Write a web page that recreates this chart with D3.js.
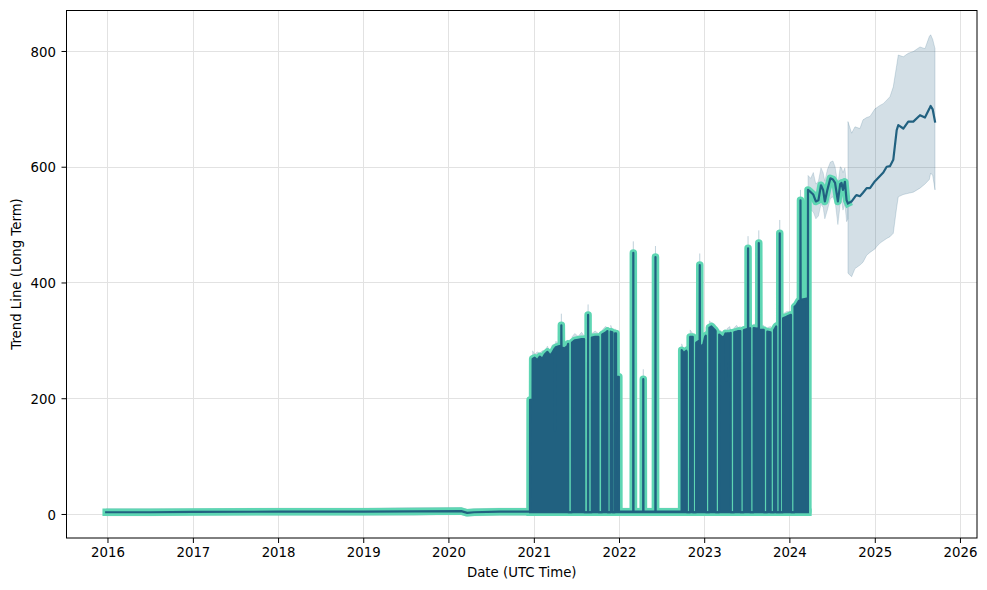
<!DOCTYPE html>
<html><head><meta charset="utf-8">
<script src="https://cdn.jsdelivr.net/npm/d3@7"></script>
<style>
body{margin:0;background:#fff}
svg{display:block}
text{font-family:"DejaVu Sans",sans-serif;fill:#000}
</style>
</head><body>
<svg id="chart" width="987" height="590"></svg>
<script>
// ---------- data ----------
const xTickYears = [2016, 2017, 2018, 2019, 2020, 2021, 2022, 2023, 2024, 2025, 2026];
const yTickValues = [0, 200, 400, 600, 800];
const xLabel = "Date (UTC Time)";
const yLabel = "Trend Line (Long Term)";

// observed trend: [decimal year, value, band low, band high]
const hist = [
[2015.985, 3, -3, 9],[2016.5, 3, -3, 9],[2017.0, 3.5, -2, 9],[2018.0, 4, -2, 10],[2019.0, 4, -2, 10],
[2019.6, 4.5, -2, 11],[2020.15, 5, -1, 11],[2020.22, 2, -4, 8],[2020.30, 3, -3, 9],[2020.60, 4, -2, 10],
[2020.955, 4, -2, 10],
[2020.956, 197, 0, 205],[2020.985, 197, 0, 206],[2020.986, 268, 0, 282],[2021.010, 270, 0, 276],
[2021.040, 266, 0, 280],[2021.070, 272, 0, 278],[2021.100, 268, 0, 282],[2021.130, 276, 0, 282],
[2021.160, 280, 0, 290],[2021.190, 274, 0, 280],[2021.215, 278, 0, 292],[2021.245, 286, 0, 292],
[2021.246, 145, 0, 150],[2021.255, 145, 0, 150],[2021.256, 288, 0, 298],[2021.300, 290, 0, 296],
[2021.322, 289, 0, 296],[2021.323, 326, 0, 346],[2021.325, 288, 0, 294],[2021.360, 286, 0, 294],
[2021.395, 290, 0, 300],[2021.403, 294, 0, 300],[2021.404, 3, 0, 8],[2021.447, 3, 0, 8],
[2021.448, 296, 0, 306],[2021.480, 300, 0, 312],[2021.520, 301, 0, 307],[2021.560, 302, 0, 314],
[2021.590, 302, 0, 308],[2021.591, 3, 0, 8],[2021.636, 3, 0, 8],[2021.637, 344, 0, 362],
[2021.639, 3, 0, 8],[2021.680, 3, 0, 8],[2021.681, 305, 0, 312],[2021.720, 306, 0, 316],
[2021.758, 306, 0, 312],[2021.759, 3, 0, 8],[2021.802, 3, 0, 8],[2021.803, 310, 0, 318],
[2021.840, 313, 0, 324],[2021.863, 316, 0, 322],[2021.864, 3, 0, 8],[2021.902, 3, 0, 8],
[2021.903, 315, 0, 326],[2021.923, 314, 0, 318],[2021.924, 3, 0, 8],[2021.952, 3, 0, 8],
[2021.953, 312, 0, 320],[2021.965, 312, 0, 316],[2021.966, 237, 0, 244],[2021.998, 237, 0, 242],
[2021.999, 4, -2, 10],
[2022.167, 4, -2, 10],[2022.168, 451, 0, 471],[2022.170, 4, -2, 10],
[2022.284, 4, -2, 10],[2022.285, 233, 0, 250],[2022.287, 4, -2, 10],
[2022.427, 4, -2, 10],[2022.428, 444, 0, 463],[2022.430, 4, -2, 10],
[2022.735, 4, -2, 10],
[2022.736, 283, 0, 294],[2022.760, 278, 0, 284],[2022.790, 282, 0, 290],[2022.795, 280, 0, 286],
[2022.796, 3, 0, 8],[2022.834, 3, 0, 8],[2022.835, 306, 0, 318],[2022.866, 306, 0, 312],
[2022.867, 3, 0, 8],[2022.905, 3, 0, 8],[2022.906, 296, 0, 304],[2022.947, 300, 0, 306],
[2022.948, 430, 0, 450],[2022.950, 292, 0, 298],[2022.985, 290, 0, 300],[2023.010, 306, 0, 312],
[2023.019, 308, 0, 316],[2023.020, 3, 0, 8],[2023.060, 3, 0, 8],[2023.061, 322, 0, 334],
[2023.085, 324, 0, 330],[2023.125, 318, 0, 328],[2023.134, 316, 0, 322],[2023.135, 3, 0, 8],
[2023.175, 3, 0, 8],[2023.176, 310, 0, 318],[2023.200, 307, 0, 316],[2023.218, 304, 0, 310],
[2023.240, 308, 0, 318],[2023.250, 312, 0, 318],[2023.251, 231, 0, 236],[2023.266, 231, 0, 236],
[2023.267, 312, 0, 320],[2023.300, 312, 0, 324],[2023.311, 313, 0, 318],[2023.312, 3, 0, 8],
[2023.352, 3, 0, 8],[2023.353, 314, 0, 322],[2023.380, 315, 0, 326],[2023.400, 316, 0, 322],
[2023.424, 316, 0, 324],[2023.425, 3, 0, 8],[2023.465, 3, 0, 8],[2023.466, 318, 0, 324],
[2023.514, 320, 0, 328],[2023.515, 459, 0, 480],[2023.517, 320, 0, 326],[2023.539, 321, 0, 330],
[2023.540, 3, 0, 8],[2023.580, 3, 0, 8],[2023.581, 321, 0, 328],[2023.640, 320, 0, 328],
[2023.641, 468, 0, 490],[2023.643, 318, 0, 324],[2023.699, 318, 0, 326],[2023.700, 3, 0, 8],
[2023.740, 3, 0, 8],[2023.741, 315, 0, 322],[2023.779, 314, 0, 324],[2023.780, 3, 0, 8],
[2023.820, 3, 0, 8],[2023.821, 318, 0, 326],[2023.845, 324, 0, 332],[2023.846, 3, 0, 8],
[2023.886, 3, 0, 8],[2023.887, 485, 0, 508],[2023.889, 3, 0, 8],[2023.925, 3, 0, 8],
[2023.926, 338, 0, 346],[2023.970, 341, 0, 350],[2024.019, 344, 0, 350],[2024.020, 3, 0, 8],
[2024.060, 3, 0, 8],[2024.061, 358, 0, 366],[2024.083, 361, 0, 368],
[2024.110, 368, 0, 376],[2024.129, 370, 0, 378],[2024.130, 542, 0, 560],[2024.132, 370, 0, 378],
[2024.205, 372, 0, 380],[2024.206, 4, -2, 10],[2024.217, 4, -2, 10],
[2024.218, 560, 530, 585],[2024.250, 556, 525, 580],[2024.280, 552, 522, 590],[2024.310, 540, 510, 570],
[2024.340, 542, 515, 575],[2024.370, 568, 535, 598],[2024.395, 560, 530, 590],[2024.415, 540, 510, 575],
[2024.445, 560, 525, 595],[2024.480, 580, 545, 608],[2024.510, 578, 548, 610],[2024.535, 572, 540, 600],
[2024.568, 540, 500, 570],[2024.595, 570, 535, 600],[2024.611, 572, 540, 598],[2024.627, 560, 525, 590],
[2024.650, 574, 535, 598],[2024.670, 542, 505, 570],[2024.686, 537, 510, 565]
];
// lower envelope of the dense daily oscillation
const denseLow = [[2020.956, 3], [2024.217, 3]];

// forecast: [decimal year, value, band low, band high]
const forecast = [
[2024.686, 537, 416, 678],[2024.729, 540, 410, 658],[2024.768, 548, 424, 669],[2024.787, 551, 426, 668],
[2024.826, 549, 430, 666],[2024.862, 555, 435, 681],[2024.905, 563, 447, 685],[2024.944, 563, 452, 687],
[2025.002, 575, 458, 700],[2025.022, 578, 462, 702],[2025.061, 584, 468, 706],[2025.100, 590, 472, 709],
[2025.140, 600, 476, 715],[2025.178, 601, 479, 721],[2025.217, 612, 485, 738],[2025.257, 663, 530, 775],
[2025.276, 672, 548, 793],[2025.335, 666, 552, 790],[2025.393, 678, 554, 796],[2025.452, 678, 556, 799],
[2025.531, 689, 563, 807],[2025.589, 685, 570, 804],[2025.640, 700, 578, 825],[2025.656, 705, 589, 828],
[2025.680, 699, 585, 820],[2025.707, 678, 560, 804]
];

// ---------- rendering ----------
const DARK = "#216180", TEAL = "#5ed6b3", BAND = "rgba(33,97,128,0.2)";
function toDate(y) {
  const yr = Math.floor(y);
  const s = Date.UTC(yr, 0, 1), e = Date.UTC(yr + 1, 0, 1);
  return new Date(s + (y - yr) * (e - s));
}
const L = 66.5, R = 977, T = 10, B = 538;
const x = d3.scaleUtc().domain([toDate(2015.519), toDate(2026.2)]).range([L, R]);
const y = d3.scaleLinear().domain([-41.5, 870.8]).range([B, T]);

const svg = d3.select("#chart");
svg.append("defs").append("clipPath").attr("id", "clip")
  .append("rect").attr("x", L).attr("y", T).attr("width", R - L).attr("height", B - T);

// grid
const grid = svg.append("g").attr("stroke", "#e2e2e2").attr("stroke-width", 1);
xTickYears.forEach(v => {
  const px = Math.round(x(toDate(v))) + 0.5;
  grid.append("line").attr("x1", px).attr("x2", px).attr("y1", T).attr("y2", B);
});
yTickValues.forEach(v => {
  const py = Math.round(y(v)) + 0.5;
  grid.append("line").attr("x1", L).attr("x2", R).attr("y1", py).attr("y2", py);
});

const plot = svg.append("g").attr("clip-path", "url(#clip)");
const X = d => x(toDate(d[0]));

// confidence bands
const band = d3.area().x(X).y0(d => y(d[2])).y1(d => y(d[3]));
plot.append("path").datum(hist).attr("d", band)
  .attr("fill", BAND).attr("stroke", "rgba(33,97,128,0.15)").attr("stroke-width", 1);
plot.append("path").datum(forecast).attr("d", band)
  .attr("fill", BAND).attr("stroke", "rgba(33,97,128,0.18)").attr("stroke-width", 1);

const line = d3.line().x(X).y(d => y(d[1]));
// teal halo
[hist, denseLow].forEach(data => {
  plot.append("path").datum(data).attr("d", line)
    .attr("fill", "none").attr("stroke", TEAL).attr("stroke-width", 7.5)
    .attr("stroke-linejoin", "round").attr("stroke-linecap", "square");
});
// dense oscillation fill
const denseStart = denseLow[0][0], denseEnd = denseLow[1][0];
const denseData = hist.filter(d => d[0] >= denseStart && d[0] <= denseEnd);
plot.append("path").datum(denseData)
  .attr("d", d3.area().x(X).y0(y(denseLow[0][1])).y1(d => y(d[1])))
  .attr("fill", DARK);
// dark lines
[hist, denseLow, forecast].forEach(data => {
  plot.append("path").datum(data).attr("d", line)
    .attr("fill", "none").attr("stroke", DARK).attr("stroke-width", 2.2)
    .attr("stroke-linejoin", "round").attr("stroke-linecap", "square");
});

// frame
svg.append("rect").attr("x", L).attr("y", T + 0.5).attr("width", R - L).attr("height", B - T - 0.5)
  .attr("fill", "none").attr("stroke", "#000").attr("stroke-width", 1);

// axes
const xAxis = d3.axisBottom(x).tickValues(xTickYears.map(toDate))
  .tickFormat(d3.utcFormat("%Y")).tickSize(5).tickPadding(4.9);
const gx = svg.append("g").attr("transform", `translate(0,${B})`).call(xAxis);
gx.select(".domain").remove();
gx.selectAll("text").attr("font-size", "13.3px").attr("font-family", "DejaVu Sans");

const yAxis = d3.axisLeft(y).tickValues(yTickValues).tickSize(5).tickPadding(5.5);
const gy = svg.append("g").attr("transform", `translate(${L},0)`).call(yAxis);
gy.select(".domain").remove();
gy.selectAll("text").attr("font-size", "13.3px").attr("font-family", "DejaVu Sans").attr("dy", "0.38em");

svg.append("text").attr("x", (L + R) / 2).attr("y", 577).attr("text-anchor", "middle")
  .attr("font-size", "13.3px").text(xLabel);
svg.append("text").attr("transform", `translate(21,${(T + B) / 2}) rotate(-90)`)
  .attr("text-anchor", "middle").attr("font-size", "13.3px").text(yLabel);
</script>
</body></html>
